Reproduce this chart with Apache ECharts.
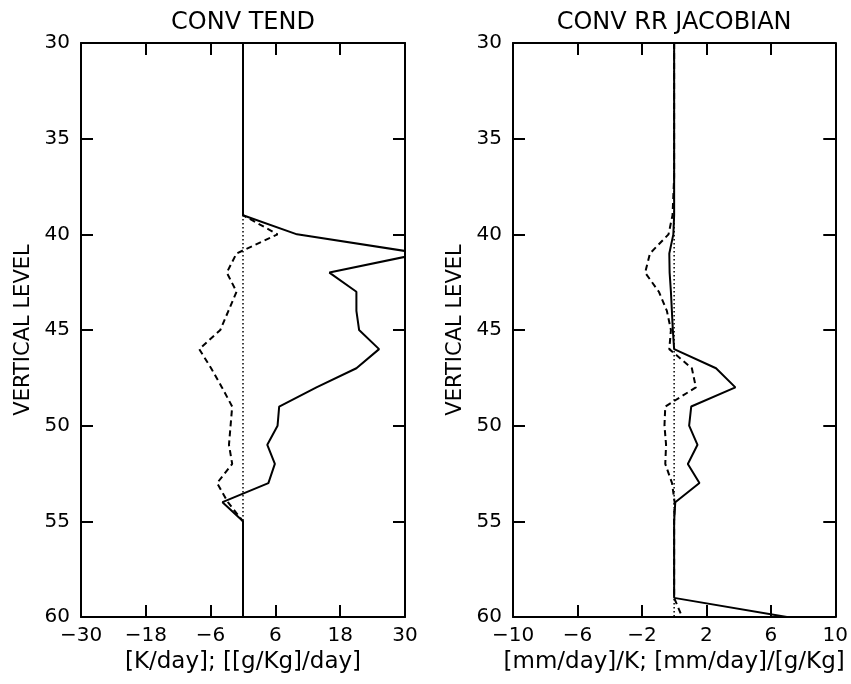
<!DOCTYPE html>
<html>
<head>
<meta charset="utf-8">
<script src="https://cdn.jsdelivr.net/npm/echarts@6/dist/echarts.min.js"></script>
<style>
  html, body { margin: 0; padding: 0; background: #fff; }
  #main { width: 851px; height: 684px; }
</style>
</head>
<body>
<div id="main"></div>
<script>
// vertical levels (y axis, top = 30)
const levels = [30, 31, 32, 33, 34, 35, 36, 37, 38, 39, 40, 41, 42, 43, 44, 45,
  46, 47, 48, 49, 50, 51, 52, 53, 54, 55, 56, 57, 58, 59, 60]

// left panel: CONV TEND
const tendSolid = [0, 0, 0, 0, 0, 0, 0, 0, 0, 0, 10, 33, 16, 21, 21, 21.5,
  25.2, 21, 13.6, 6.7, 6.4, 4.5, 5.9, 4.7, -3.8, 0, 0, 0, 0, 0, 0]
const tendDashed = [0, 0, 0, 0, 0, 0, 0, 0, 0, 0, 6.4, -1.2, -3, -1.2, -2.7, -4.2,
  -8.1, -5.9, -3.9, -2, -2.3, -2.6, -2, -4.8, -2.8, 0, 0, 0, 0, 0, 0]

// right panel: CONV RR JACOBIAN
const jacSolid = [0, 0, 0, 0, 0, 0, 0, 0, 0, 0, -0.05, -0.3, -0.28, -0.2, -0.14, -0.08,
  0, 2.6, 3.8, 1.06, 0.93, 1.45, 0.85, 1.57, 0.07, 0, 0, 0, 0, 0, 7.0]
const jacDashed = [0, 0, 0, 0, 0, 0, 0, 0, -0.05, -0.1, -0.35, -1.5, -1.8, -0.95, -0.45, -0.2,
  -0.3, 1.1, 1.35, -0.55, -0.6, -0.5, -0.55, -0.13, 0.03, 0, 0, 0, 0, 0, 0.5]

const zeros = levels.map(() => 0)

// tick label sets (axes start at 0 so the interval counts from min)
const tendTicks = { offset: 30, span: 60, step: 12 }
const jacTicks = { offset: 10, span: 20, step: 4 }

const FONT = 'DejaVu Sans'
const BLACK = '#000'

function fmt (v) {
  return v < 0 ? '\u2212' + Math.abs(v) : String(v)
}

function pairs (vals) {
  return levels.map((lv, i) => [vals[i], lv])
}

function tickAxis (gridIndex, ticks, position, opts) {
  return Object.assign({
    type: 'value',
    gridIndex,
    position,
    min: 0,
    max: ticks.span,
    interval: ticks.step,
    axisLine: { show: true, onZero: false, lineStyle: { color: BLACK, width: 2 } },
    axisTick: { show: true, inside: true, length: 12, lineStyle: { color: BLACK, width: 2 } },
    axisLabel: {
      show: position === 'bottom',
      showMinLabel: true,
      showMaxLabel: true,
      color: BLACK,
      fontFamily: FONT,
      fontSize: 20,
      margin: 9,
      formatter: (v) => fmt(v - ticks.offset)
    },
    splitLine: { show: false }
  }, opts || {})
}

function levelAxis (gridIndex, position) {
  return {
    type: 'value',
    gridIndex,
    position,
    inverse: true,
    min: 30,
    max: 60,
    interval: 5,
    name: position === 'left' ? 'VERTICAL LEVEL' : '',
    nameLocation: 'middle',
    nameRotate: 90,
    nameGap: 47,
    nameTextStyle: { color: BLACK, fontFamily: FONT, fontSize: 21 },
    axisLine: { show: true, onZero: false, lineStyle: { color: BLACK, width: 2 } },
    axisTick: { show: true, inside: true, length: 12, lineStyle: { color: BLACK, width: 2 } },
    axisLabel: {
      show: position === 'left',
      color: BLACK,
      fontFamily: FONT,
      fontSize: 20,
      margin: 11
    },
    splitLine: { show: false }
  }
}

function line (xAxisIndex, yAxisIndex, vals, type, width, z) {
  return {
    type: 'line',
    xAxisIndex,
    yAxisIndex,
    data: pairs(vals),
    symbol: 'none',
    showSymbol: false,
    clip: true,
    z,
    lineStyle: { color: BLACK, width, type }
  }
}

const chart = echarts.init(document.getElementById('main'), null, { renderer: 'canvas' })

const option = {
  backgroundColor: '#fff',
  animation: false,
  grid: [
    { left: 81, top: 43, width: 324, height: 574 },
    { left: 513, top: 43, width: 324, height: 574 }
  ],
  xAxis: [
    { type: 'value', gridIndex: 0, min: -30, max: 30, show: false },
    tickAxis(0, tendTicks, 'bottom', {
      name: '[K/day]; [[g/Kg]/day]',
      nameLocation: 'middle',
      nameGap: 31,
      nameTextStyle: { color: BLACK, fontFamily: FONT, fontSize: 23 }
    }),
    tickAxis(0, tendTicks, 'top', {
      name: 'CONV TEND',
      nameLocation: 'middle',
      nameGap: 8,
      nameTextStyle: { color: BLACK, fontFamily: FONT, fontSize: 24 }
    }),
    { type: 'value', gridIndex: 1, min: -10, max: 10, show: false },
    tickAxis(1, jacTicks, 'bottom', {
      name: '[mm/day]/K; [mm/day]/[g/Kg]',
      nameLocation: 'middle',
      nameGap: 31,
      nameTextStyle: { color: BLACK, fontFamily: FONT, fontSize: 23 }
    }),
    tickAxis(1, jacTicks, 'top', {
      name: 'CONV RR JACOBIAN',
      nameLocation: 'middle',
      nameGap: 8,
      nameTextStyle: { color: BLACK, fontFamily: FONT, fontSize: 24 }
    })
  ],
  yAxis: [
    levelAxis(0, 'left'),
    levelAxis(0, 'right'),
    levelAxis(1, 'left'),
    levelAxis(1, 'right')
  ],
  series: [
    line(0, 0, zeros, [1.5, 2.5], 1.5, 1),
    line(0, 0, tendDashed, [6, 4], 2, 2),
    line(0, 0, tendSolid, 'solid', 2, 3),
    line(3, 2, zeros, [1.5, 2.5], 1.5, 1),
    line(3, 2, jacDashed, [6, 4], 2, 2),
    line(3, 2, jacSolid, 'solid', 2, 3)
  ]
}

chart.setOption(option)
</script>
</body>
</html>
